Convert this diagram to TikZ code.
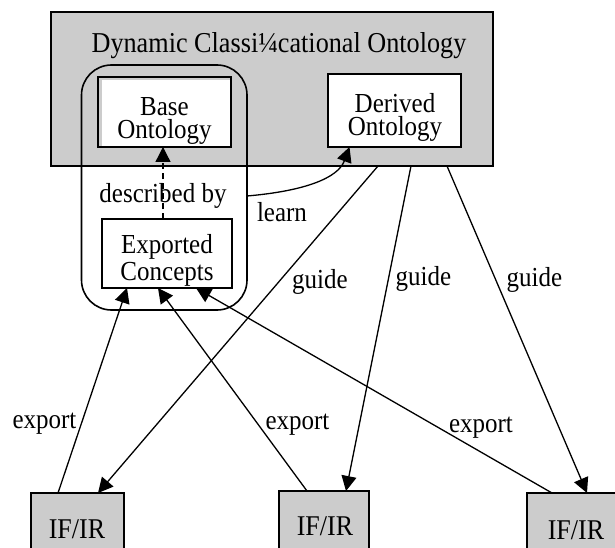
\documentclass[tikz,border=0pt]{standalone}
\usepackage{graphicx}
\usepackage{fontspec}
\setmainfont{Liberation Serif}
\usetikzlibrary{arrows.meta}
\definecolor{boxgray}{HTML}{CCCCCC}
% slightly tall lettering
\newcommand{\tallt}[1]{\scalebox{1}[1.1]{#1}}

\begin{document}
\begin{tikzpicture}[x=1pt, y=-1pt,
  box/.style={draw, line width=1.6pt, inner sep=0pt, outer sep=0pt, fill=white},
  graybox/.style={box, fill=boxgray},
  lbl/.style={font=\fontsize{25}{25}\selectfont, anchor=base, inner sep=0pt},
  boxtext/.style={font=\fontsize{25}{#1}\selectfont, align=center, inner sep=0pt},
  iflbl/.style={lbl, font=\fontsize{26}{26}\selectfont},
  conn/.style={line width=1.3pt, -{Triangle[length=15pt, width=15pt]}},
  feed/.style={conn},
  hint/.style={line width=1.3pt, dash pattern=on 6pt off 4pt, -{Triangle[length=15pt, width=15pt]}}
]
\useasboundingbox (0,0) rectangle (615,548);

% outer ontology frame
\node[graybox, minimum width=442pt, minimum height=154pt] (top) at (272,89) {};
\node[lbl, font=\fontsize{26.2}{26.2}\selectfont] (title) at (279,53) {\tallt{Dynamic Classi¼cational Ontology}};

% inner boxes
\node[graybox, minimum width=133pt, minimum height=70pt] (base) at (164.5,112) {};
\fill[white] ([shift={(3.5pt,-3.5pt)}]base.north west) rectangle ([shift={(-0.8pt,0.8pt)}]base.south east);
\node[boxtext=23pt] (baseT) at (164.5,120.5) {\tallt{Base}\\\tallt{Ontology}};

\node[box, minimum width=133pt, minimum height=73pt] (derived) at (394.5,110.5) {};
\node[boxtext=23pt] (derT) at (395,117.6) {\tallt{Derived}\\\tallt{Ontology}};

\node[box, minimum width=130pt, minimum height=69pt] (exp) at (167,253.5) {};
\node[boxtext=27pt] (expT) at (167,260) {\tallt{Exported}\\\tallt{Concepts}};

% rounded group around base ontology and exported concepts
\node[draw, line width=1.6pt, rounded corners=30pt, minimum width=165.5pt, minimum height=245pt, inner sep=0pt, outer sep=0pt] (rb) at (164.25,187.5) {};

% IF/IR sources
\node[graybox, minimum width=93pt, minimum height=100pt] (ifL) at (77.5,543) {};
\node[graybox, minimum width=90pt, minimum height=100pt] (ifM) at (324,541) {};
\node[graybox, minimum width=90pt, minimum height=100pt] (ifR) at (572,543) {};
\node[iflbl] (ifLt) at (77,538) {\tallt{IF/IR}};
\node[iflbl] (ifMt) at (325,535) {\tallt{IF/IR}};
\node[iflbl] (ifRt) at (576,539) {\tallt{IF/IR}};

% connectors
\draw[hint] ([xshift=-4pt]exp.north) -- ([xshift=-1.5pt]base.south);
\node[lbl] (descr) at (163,202) {\tallt{described by}};

\draw[conn] ([yshift=-8.5pt]rb.east) .. controls (305,191) and (338,178) .. ([xshift=-45pt]derived.south);
\node[lbl] (learn) at (282,221) {\tallt{learn}};

\draw[conn] ([xshift=106pt]top.south) -- ([xshift=20.5pt]ifL.north);
\draw[conn] ([xshift=139pt]top.south) -- ([xshift=22pt]ifM.north);
\draw[conn] ([xshift=175pt]top.south) -- ([xshift=15pt]ifR.north);
\node[lbl] (g1) at (320,288) {\tallt{guide}};
\node[lbl] (g2) at (423.5,285) {\tallt{guide}};
\node[lbl] (g3) at (534.5,286) {\tallt{guide}};

\draw[feed] ([xshift=-19.5pt]ifL.north) -- ([xshift=-40pt]exp.south);
\draw[feed] ([xshift=-17pt]ifM.north) -- ([xshift=-9pt]exp.south);
\draw[feed] ([xshift=-20pt]ifR.north) -- ([xshift=29pt]exp.south);
\node[lbl] (e1) at (44.5,428) {\tallt{export}};
\node[lbl] (e2) at (297.5,429) {\tallt{export}};
\node[lbl] (e3) at (481,432) {\tallt{export}};
\end{tikzpicture}
\end{document}
